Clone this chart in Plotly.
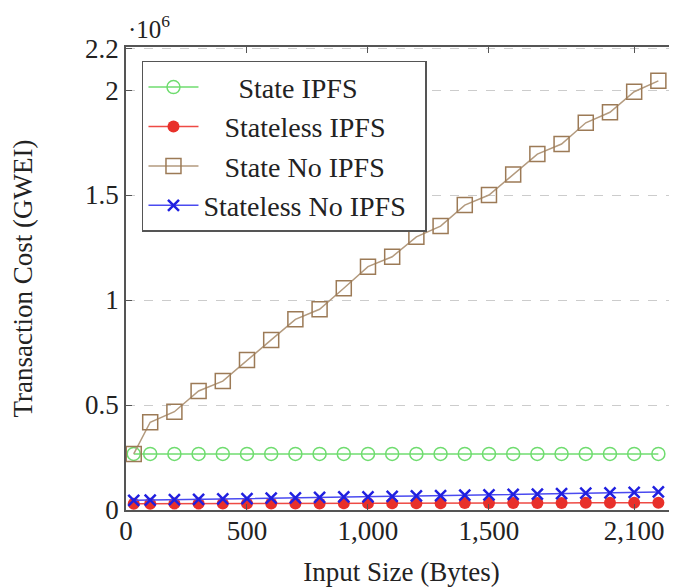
import plotly.graph_objects as go

input_size = [32, 100, 200, 300, 400, 500, 600, 700, 800, 900, 1000, 1100,
              1200, 1300, 1400, 1500, 1600, 1700, 1800, 1900, 2000, 2100, 2200]

state_ipfs = [267000] * 23
stateless_ipfs = [30000, 30000, 30500, 30500, 31000, 31000, 31000, 31500, 31500, 32000, 32000, 32000,
                  32500, 32500, 33000, 33000, 33000, 33500, 33500, 34000, 34000, 34000, 34500]
state_no_ipfs = [267000, 418000, 468000, 567000, 614000, 714000, 810000, 908000, 956000, 1056000,
                 1159000, 1206000, 1301000, 1352000, 1452000, 1500000, 1598000, 1695000, 1743000,
                 1844000, 1894000, 1992000, 2044000]
stateless_no_ipfs = [46000, 47000, 49000, 51000, 53000, 54000, 56000, 58000, 60000, 62000, 63000, 65000,
                     67000, 69000, 71000, 72000, 74000, 76000, 78000, 80000, 82000, 84000, 86000]

names = ["State IPFS", "Stateless IPFS", "State No IPFS", "Stateless No IPFS"]
x_tickvals = [0, 500, 1000, 1500, 2100]
x_ticktext = ["0", "500", "1,000", "1,500", "2,100"]
y_tickvals = [0, 500000, 1000000, 1500000, 2000000, 2200000]
y_ticktext = ["0", "0.5", "1", "1.5", "2", "2.2"]

NB = "\u00a0"
FONT = "Liberation Serif"

fig = go.Figure()
fig.add_trace(go.Scatter(
    x=input_size, y=state_ipfs, name=NB * 5 + names[0], mode="lines+markers",
    line=dict(color="#6fdc6f", width=1.5),
    marker=dict(symbol="circle-open", size=13, color="#6fdc6f", line=dict(width=1.5))))
fig.add_trace(go.Scatter(
    x=input_size, y=stateless_ipfs, name=NB * 3 + names[1], mode="lines+markers",
    line=dict(color="#ee4a44", width=1.5),
    marker=dict(symbol="circle", size=12, color="#e8302a")))
fig.add_trace(go.Scatter(
    x=input_size, y=state_no_ipfs, name=NB * 3 + names[2], mode="lines+markers",
    line=dict(color="#b39a7e", width=1.5),
    marker=dict(symbol="square-open", size=15, color="#9c7a56", line=dict(width=1.5))))
fig.add_trace(go.Scatter(
    x=input_size, y=stateless_no_ipfs, name=names[3] + NB * 2, mode="lines+markers",
    line=dict(color="#4a4af0", width=1.5),
    marker=dict(symbol="x-thin-open", size=11, color="#2020e0", line=dict(width=2.5))))

# page body has an 8px margin: figure is offset by 8px
fig.update_layout(
    width=669, height=579,
    margin=dict(l=118, r=0, t=39, b=77, autoexpand=False),
    paper_bgcolor="white", plot_bgcolor="white",
    font=dict(family=FONT, size=27, color="#222"),
    showlegend=True,
    legend=dict(
        x=0.029, y=0.97, xanchor="left", yanchor="top",
        bgcolor="white", bordercolor="#555", borderwidth=1.5,
        font=dict(family=FONT, size=28, color="#222"),
        itemwidth=50, tracegroupgap=0,
    ),
    annotations=[dict(
        text="·10<sup>6</sup>", xref="paper", yref="paper", x=0.0, y=1.0,
        xanchor="left", yanchor="bottom", showarrow=False, yshift=2,
        font=dict(family=FONT, size=25, color="#222"))],
)

fig.update_xaxes(
    range=[0, 2277], tickvals=x_tickvals, ticktext=x_ticktext,
    showline=True, linecolor="#555", linewidth=1.5, mirror="ticks",
    ticks="inside", ticklen=6, tickcolor="#555", tickwidth=1,
    showgrid=False, zeroline=False, automargin=False,
    ticklabelstandoff=-4,
    tickfont=dict(family=FONT, size=27, color="#222"),
    title=dict(text="Input Size (Bytes)", font=dict(family=FONT, size=27, color="#222"), standoff=20),
)
fig.update_yaxes(
    range=[0, 2205000], tickvals=y_tickvals, ticktext=y_ticktext,
    showline=True, linecolor="#555", linewidth=1.5,
    ticks="inside", ticklen=6, tickcolor="#555", tickwidth=1,
    showgrid=True, gridcolor="#cccccc", griddash="dash", gridwidth=1,
    zeroline=False, automargin=False,
    tickfont=dict(family=FONT, size=27, color="#222"),
    title=dict(text="Transaction Cost (GWEI)", font=dict(family=FONT, size=27, color="#222"), standoff=46),
)

fig.write_html("out.html")
